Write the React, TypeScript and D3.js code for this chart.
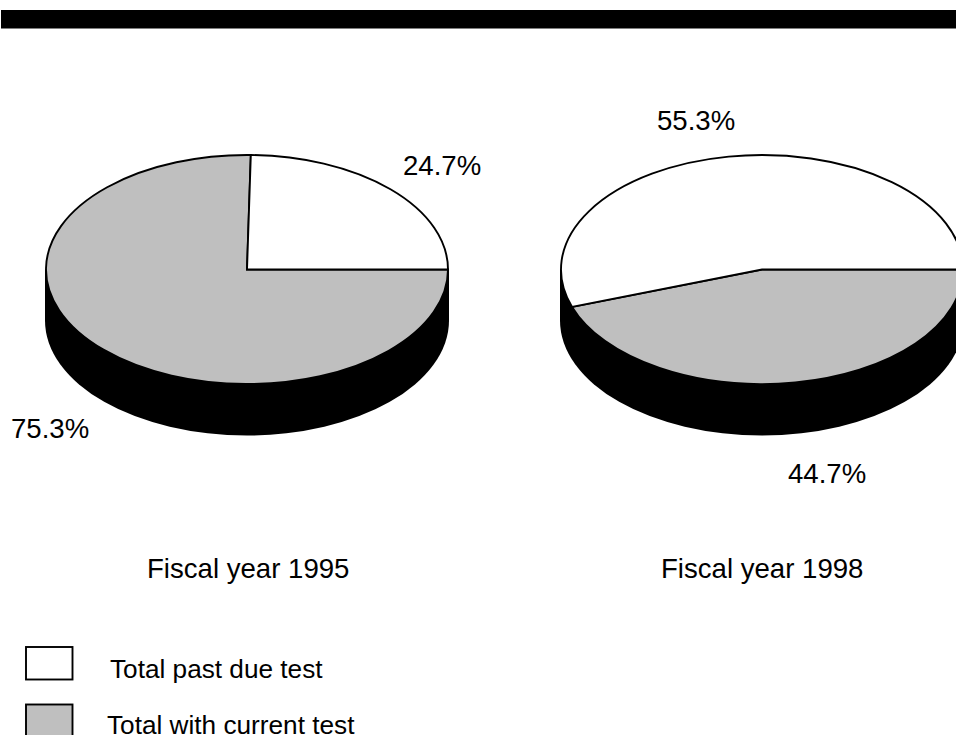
import React from "react";
import * as d3 from "d3";

const sliceNames = ["Total with current test", "Total past due test"];
const sliceColors = ["#bfbfbf", "#ffffff"];
const pieTitles = ["Fiscal year 1995", "Fiscal year 1998"];
const currentShares = [75.3, 44.7];
const pastDueShares = [24.7, 55.3];
const legendNames = ["Total past due test", "Total with current test"];
const legendColors = ["#ffffff", "#bfbfbf"];

const FONT = "'Liberation Sans', Arial, sans-serif";
const RX = 201;
const RY = 114.5;
const DEPTH = 51;
const CY = 269.5;
const pieCenters = [247, 762];
const titleX = [147, 661];
const currentLabelPos = [[11, 438], [788, 483]];
const pastLabelPos = [[403, 175], [657, 130]];

// Slices run clockwise from the east point of the disc, past-due slice last.
const pieLayout = d3
  .pie<number>()
  .sort(null)
  .startAngle(Math.PI / 2)
  .endAngle(Math.PI / 2 + 2 * Math.PI);
const unitArc = d3.arc<d3.PieArcDatum<number>>().innerRadius(0).outerRadius(1);

function Disc({ index }: { index: number }) {
  const cx = pieCenters[index];
  const arcs = pieLayout([currentShares[index], pastDueShares[index]]);
  return (
    <g>
      <ellipse cx={cx} cy={CY + DEPTH} rx={RX + 1} ry={RY + 0.5} fill="#000" />
      <rect x={cx - RX - 1} y={CY} width={2 * RX + 2} height={DEPTH} fill="#000" />
      {arcs.map((a, i) => (
        <path
          key={sliceNames[i]}
          d={unitArc(a) as string}
          transform={`translate(${cx},${CY}) scale(${RX},${RY})`}
          fill={sliceColors[i]}
          stroke="#000"
          strokeWidth={1.9}
          vectorEffect="non-scaling-stroke"
        />
      ))}
    </g>
  );
}

export default function App() {
  return (
    <svg
      width={956}
      height={735}
      viewBox="0 0 956 735"
      style={{ position: "absolute", left: 0, top: 0, background: "#fff" }}
      fontFamily={FONT}
      fill="#000"
    >
      <rect x={1} y={10} width={955} height={18.5} fill="#000" />
      {pieCenters.map((_, i) => (
        <Disc key={pieTitles[i]} index={i} />
      ))}
      {pieTitles.map((t, i) => (
        <g key={t} fontSize={27.6}>
          <text x={titleX[i]} y={578}>{t}</text>
          <text x={pastLabelPos[i][0]} y={pastLabelPos[i][1]}>{`${pastDueShares[i]}%`}</text>
          <text x={currentLabelPos[i][0]} y={currentLabelPos[i][1]}>{`${currentShares[i]}%`}</text>
        </g>
      ))}
      {legendNames.map((name, i) => (
        <g key={name}>
          <rect
            x={26}
            y={647 + i * 57.5}
            width={46.5}
            height={32.5}
            fill={legendColors[i]}
            stroke="#000"
            strokeWidth={1.9}
          />
          <text x={i === 0 ? 110 : 107} y={i === 0 ? 677.5 : 733.5} fontSize={26.2}>{name}</text>
        </g>
      ))}
    </svg>
  );
}
